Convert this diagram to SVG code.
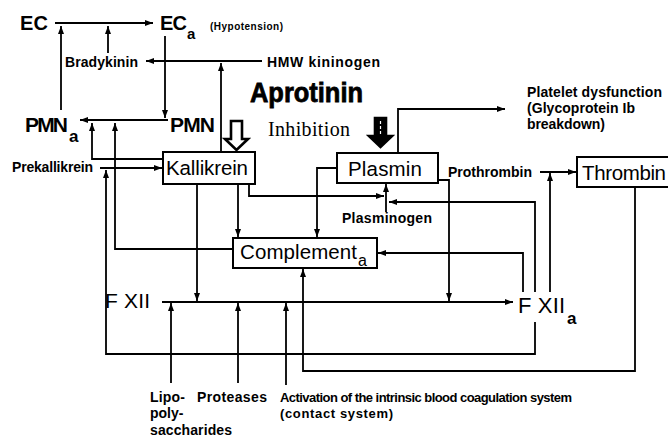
<svg xmlns="http://www.w3.org/2000/svg" width="668" height="438" viewBox="0 0 668 438">
<style>
.t{font-family:"Liberation Sans",Arial,sans-serif;fill:#000}
.b{font-weight:bold}
.s14{font-size:14px}
.big{font-size:20.5px}
.box{fill:#fff;stroke:#000;stroke-width:2}
.c path{fill:none;stroke:#000;stroke-width:1.8;marker-end:url(#ah)}
.blk{fill:#fff;stroke:#000;stroke-width:2.6;stroke-linejoin:miter}
.blk.dark{fill:#000}
</style>
<defs>
<marker id="ah" markerUnits="userSpaceOnUse" markerWidth="8" markerHeight="6" refX="8" refY="3" orient="auto">
<path d="M0,0 L8,3 L0,6 z" fill="#000"/>
</marker>
</defs>
<rect width="668" height="438" fill="#fff"/>

<g id="connectors" class="c">
<path d="M55,23 H153"/>
<path d="M61,110 V26"/>
<path d="M108,53 V26"/>
<path d="M165,36 V118"/>
<path d="M168,120 H80"/>
<path d="M163,159 H92 V123"/>
<path d="M233,249 H115 V123"/>
<path d="M262,61 H146"/>
<path d="M221,152 V63"/>
<path d="M100,168 H162"/>
<path d="M535,322 V354 H106 V170"/>
<path d="M238,184 V237"/>
<path d="M197,184 V301"/>
<path d="M249,184 V196 H384"/>
<path d="M386,212 V184"/>
<path d="M535,292 V202 H389"/>
<path d="M337,168 H317 V237"/>
<path d="M438,180 H449 V301"/>
<path d="M398,153 V109 H505"/>
<path d="M523,292 V253 H378"/>
<path d="M550,292 V173"/>
<path d="M540,172 H576"/>
<path d="M635,187 V371 H303 V269"/>
<path d="M162,302 H513"/>
<path d="M171,383 V303"/>
<path d="M238,383 V303"/>
<path d="M286,385 V303"/>
</g>

<g id="EC"><text class="t b" x="20" y="30" font-size="20" textLength="28">EC</text></g>
<g id="ECa"><text class="t b" x="160" y="30" font-size="20" textLength="27">EC</text><text class="t b" x="187" y="39" font-size="15">a</text></g>
<g id="hypotension"><text class="t b" x="210" y="30" font-size="10" textLength="73">(Hypotension)</text></g>
<g id="bradykinin"><text class="t b s14" x="65" y="67" textLength="73">Bradykinin</text></g>
<g id="hmw-kininogen"><text class="t b s14" x="267" y="67" textLength="113">HMW kininogen</text></g>
<g id="aprotinin"><text class="t b" x="250" y="102" font-size="28" stroke="#000" stroke-width="0.8" textLength="113" lengthAdjust="spacingAndGlyphs">Aprotinin</text></g>
<g id="inhibition"><text x="268" y="136" font-family="'Liberation Serif','Times New Roman',serif" font-size="20" textLength="82">Inhibition</text></g>
<g id="PMNa"><text class="t b" x="25" y="132" font-size="21" textLength="43">PMN</text><text class="t b" x="69" y="142" font-size="17">a</text></g>
<g id="PMN"><text class="t b" x="170" y="132" font-size="21" textLength="45">PMN</text></g>
<g id="prekallikrein"><text class="t b s14" x="12" y="172" textLength="81">Prekallikrein</text></g>
<g id="kallikrein"><rect class="box" x="163" y="152" width="92" height="32"/><text class="t big" x="166" y="175" textLength="82">Kallikrein</text></g>
<g id="plasmin"><rect class="box" x="337" y="153" width="101" height="30"/><text class="t big" x="348" y="176" textLength="74">Plasmin</text></g>
<g id="prothrombin"><text class="t b s14" x="448" y="177" textLength="84">Prothrombin</text></g>
<g id="thrombin"><rect class="box" x="577" y="157" width="96" height="30"/><text class="t big" x="582" y="180" textLength="84">Thrombin</text></g>
<g id="plasminogen"><text class="t b s14" x="342" y="223" textLength="90">Plasminogen</text></g>
<g id="complement"><rect class="box" x="233" y="238" width="144" height="30"/><text class="t big" x="240" y="259" textLength="117">Complement</text><text class="t" x="358" y="266" font-size="16">a</text></g>
<g id="platelet"><text class="t b s14"><tspan x="527" y="97" textLength="135">Platelet dysfunction</tspan><tspan x="527" y="113" textLength="108">(Glycoprotein Ib</tspan><tspan x="527" y="129" textLength="78">breakdown)</tspan></text></g>
<g id="FXII"><text class="t" x="105" y="308" font-size="21" textLength="45">F XII</text></g>
<g id="FXIIa"><text class="t" x="518" y="313" font-size="22" textLength="47">F XII</text><text class="t b" x="567" y="324" font-size="17">a</text></g>
<g id="lipopolysaccharides"><text class="t b s14"><tspan x="150" y="402" textLength="35">Lipo-</tspan><tspan x="150" y="418">poly-</tspan><tspan x="150" y="435" textLength="82">saccharides</tspan></text></g>
<g id="proteases"><text class="t b s14" x="197" y="402" textLength="70">Proteases</text></g>
<g id="activation"><text class="t b" font-size="13"><tspan x="280" y="402" textLength="292">Activation of the intrinsic blood coagulation system</tspan><tspan x="280" y="418" textLength="113">(contact system)</tspan></text></g>

<g id="inhibition-arrows">
<polygon class="blk" points="231,121 242,121 242,139 248,139 236.5,150 225,139 231,139"/>
<polygon class="blk dark" points="375,118 386,118 386,136 392,136 380.5,147 369,136 375,136"/>
<line x1="380.5" y1="121" x2="380.5" y2="136" stroke="#fff" stroke-width="1.2" stroke-dasharray="3,2"/>
</g>
</svg>
